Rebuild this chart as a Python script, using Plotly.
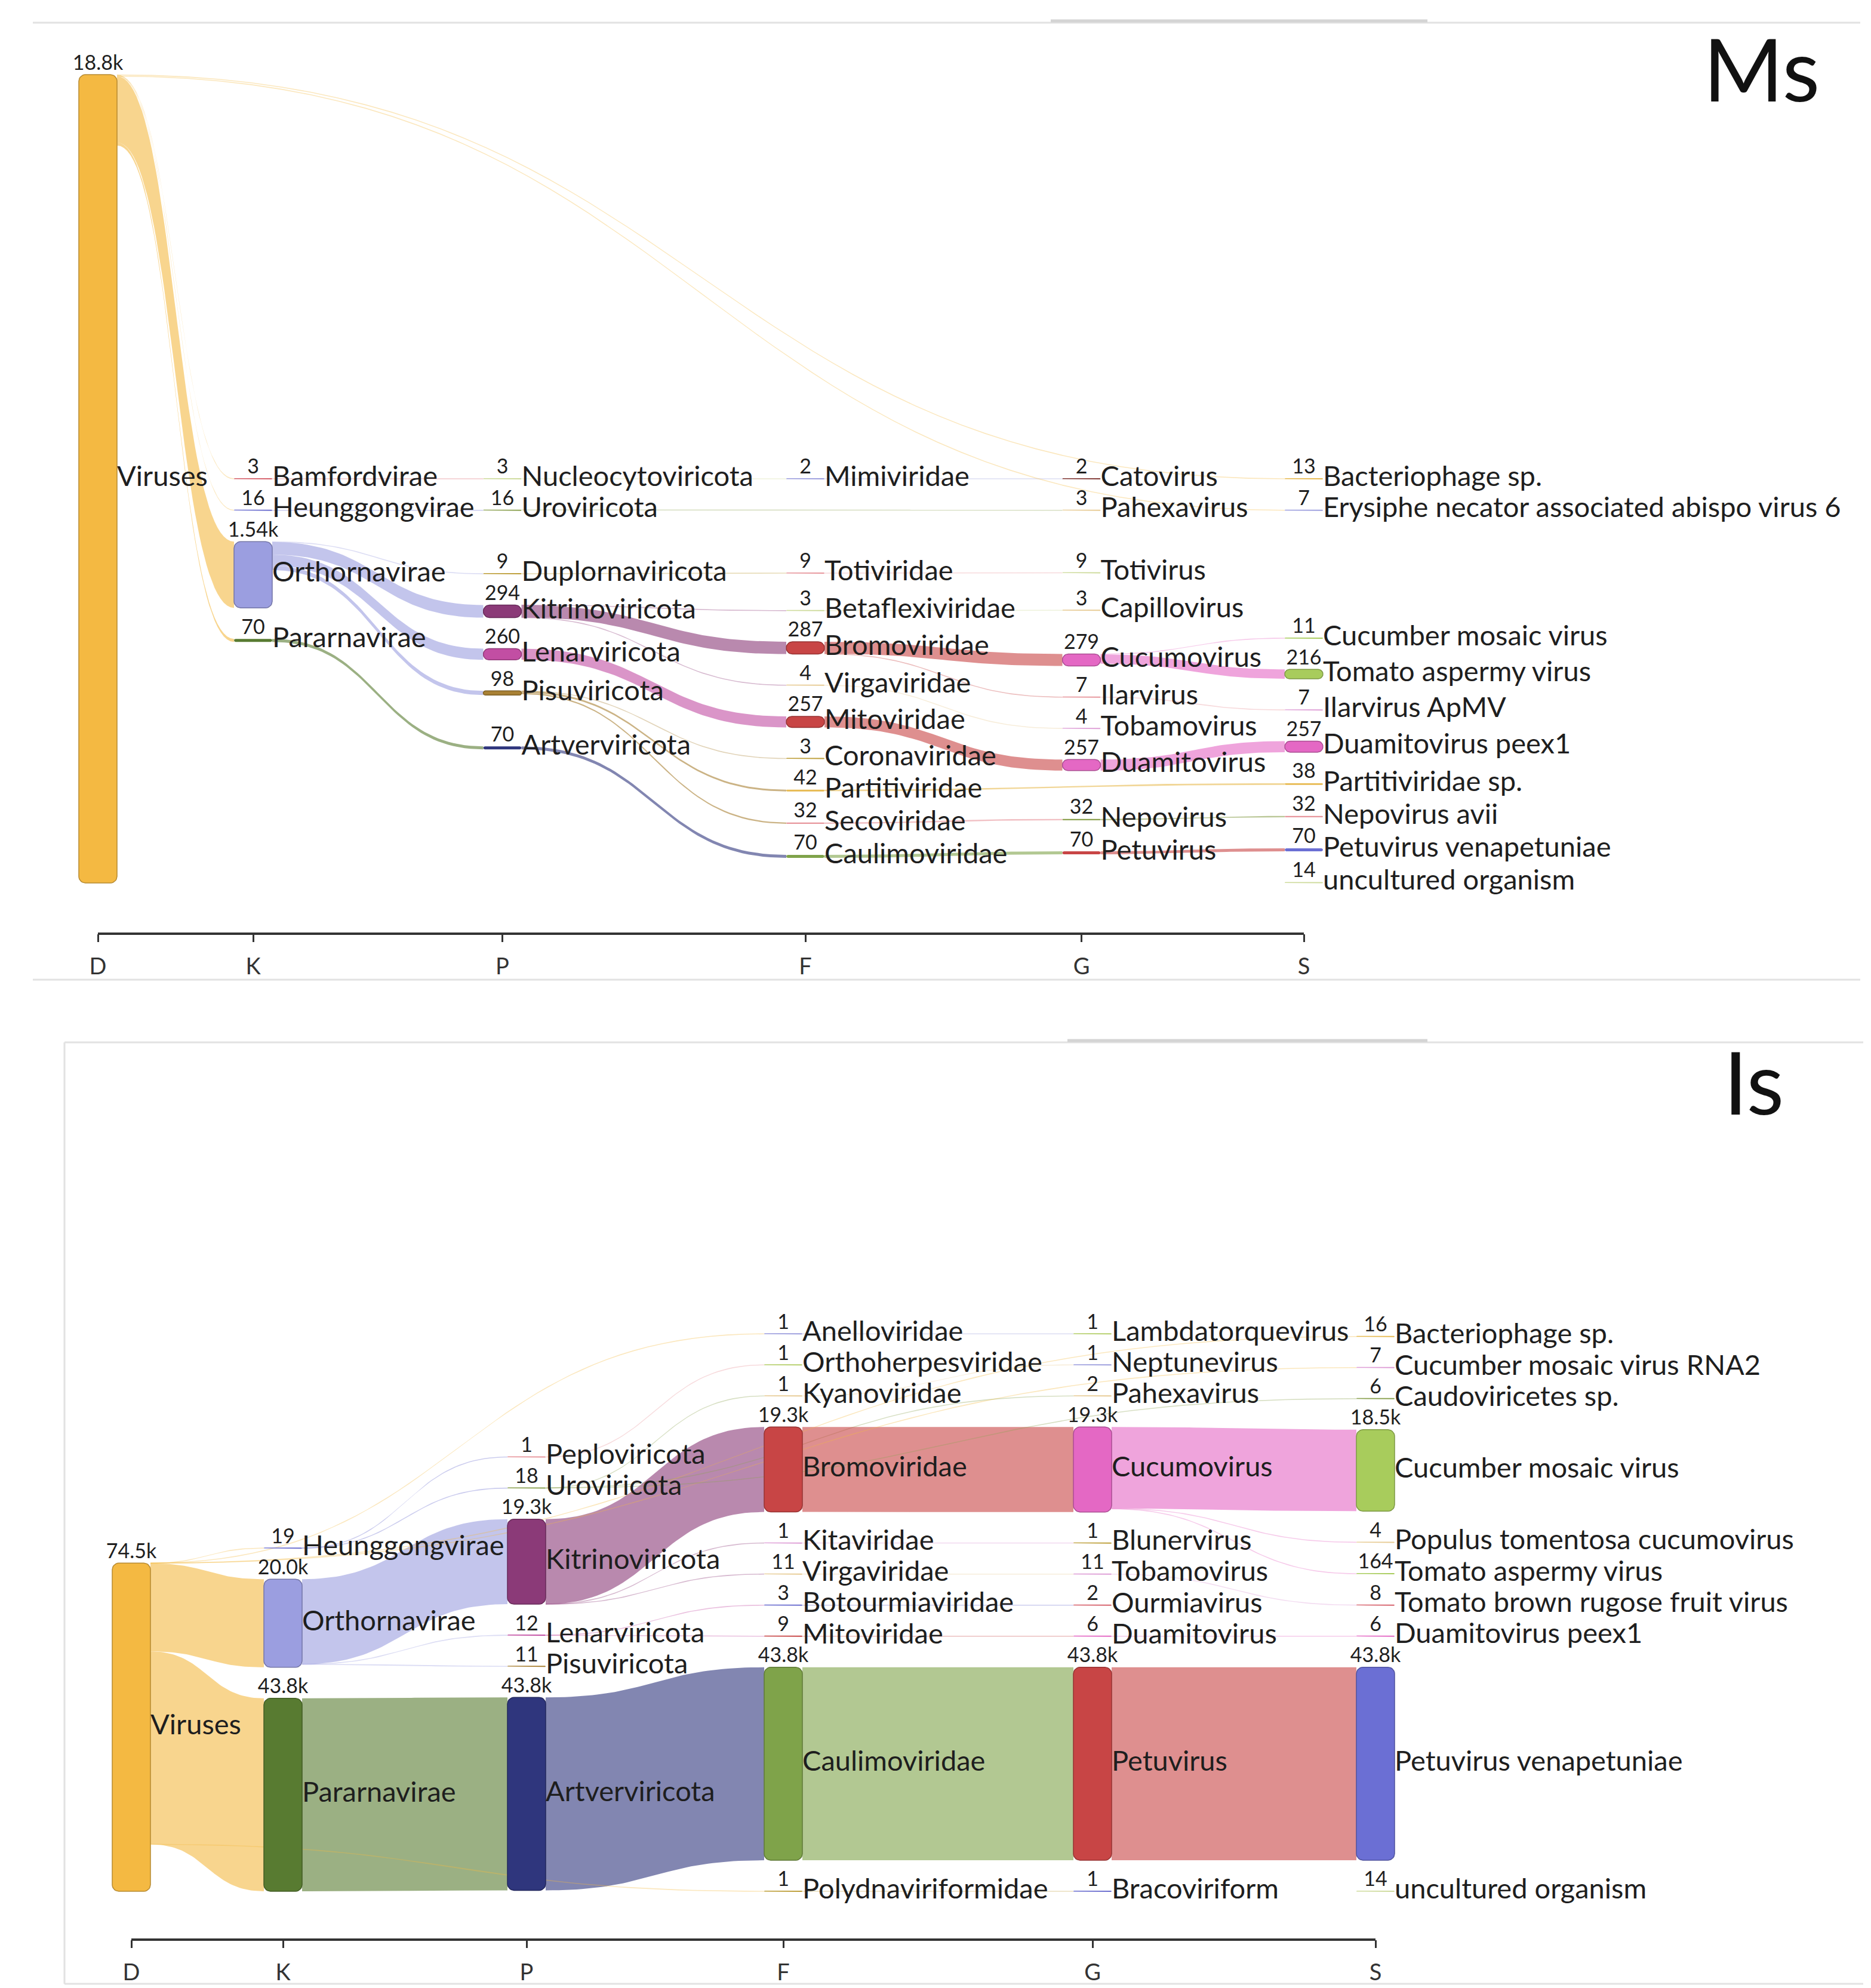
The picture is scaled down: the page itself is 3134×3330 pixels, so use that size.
import math
import plotly.graph_objects as go

# ---------------------------------------------------------------- data
RANKS = ["D", "K", "P", "F", "G", "S"]

# ---- Ms sample
ms_names = [
    "Viruses",
    "Bamfordvirae", "Heunggongvirae", "Orthornavirae", "Pararnavirae",
    "Nucleocytoviricota", "Uroviricota", "Duplornaviricota", "Kitrinoviricota",
    "Lenarviricota", "Pisuviricota", "Artverviricota",
    "Mimiviridae", "Totiviridae", "Betaflexiviridae", "Bromoviridae", "Virgaviridae",
    "Mitoviridae", "Coronaviridae", "Partitiviridae", "Secoviridae", "Caulimoviridae",
    "Catovirus", "Pahexavirus", "Totivirus", "Capillovirus", "Cucumovirus",
    "Ilarvirus", "Tobamovirus", "Duamitovirus", "Nepovirus", "Petuvirus",
    "Bacteriophage sp.", "Erysiphe necator associated abispo virus 6",
    "Cucumber mosaic virus", "Tomato aspermy virus", "Ilarvirus ApMV",
    "Duamitovirus peex1", "Partitiviridae sp.", "Nepovirus avii",
    "Petuvirus venapetuniae", "uncultured organism",
]
ms_ranks = ["D"] + ["K"] * 4 + ["P"] * 7 + ["F"] * 10 + ["G"] * 10 + ["S"] * 10
ms_reads = [
    18800,
    3, 16, 1540, 70,
    3, 16, 9, 294, 260, 98, 70,
    2, 9, 3, 287, 4, 257, 3, 42, 32, 70,
    2, 3, 9, 3, 279, 7, 4, 257, 32, 70,
    13, 7, 11, 216, 7, 257, 38, 32, 70, 14,
]
ms_parents = [
    None,
    "Viruses", "Viruses", "Viruses", "Viruses",
    "Bamfordvirae", "Heunggongvirae", "Orthornavirae", "Orthornavirae",
    "Orthornavirae", "Orthornavirae", "Pararnavirae",
    "Nucleocytoviricota", "Duplornaviricota", "Kitrinoviricota", "Kitrinoviricota",
    "Kitrinoviricota", "Lenarviricota", "Pisuviricota", "Pisuviricota",
    "Pisuviricota", "Artverviricota",
    "Mimiviridae", "Uroviricota", "Totiviridae", "Betaflexiviridae", "Bromoviridae",
    "Bromoviridae", "Virgaviridae", "Mitoviridae", "Secoviridae", "Caulimoviridae",
    "Viruses", "Viruses", "Cucumovirus", "Cucumovirus", "Ilarvirus",
    "Duamitovirus", "Partitiviridae", "Nepovirus", "Petuvirus", None,
]

# ---- Is sample
is_names = [
    "Viruses",
    "Heunggongvirae", "Orthornavirae", "Pararnavirae",
    "Peploviricota", "Uroviricota", "Kitrinoviricota", "Lenarviricota",
    "Pisuviricota", "Artverviricota",
    "Anelloviridae", "Orthoherpesviridae", "Kyanoviridae", "Bromoviridae",
    "Kitaviridae", "Virgaviridae", "Botourmiaviridae", "Mitoviridae",
    "Caulimoviridae", "Polydnaviriformidae",
    "Lambdatorquevirus", "Neptunevirus", "Pahexavirus", "Cucumovirus",
    "Blunervirus", "Tobamovirus", "Ourmiavirus", "Duamitovirus", "Petuvirus",
    "Bracoviriform",
    "Bacteriophage sp.", "Cucumber mosaic virus RNA2", "Caudoviricetes sp.",
    "Cucumber mosaic virus", "Populus tomentosa cucumovirus", "Tomato aspermy virus",
    "Tomato brown rugose fruit virus", "Duamitovirus peex1",
    "Petuvirus venapetuniae", "uncultured organism",
]
is_ranks = ["D"] + ["K"] * 3 + ["P"] * 6 + ["F"] * 10 + ["G"] * 10 + ["S"] * 10
is_reads = [
    74500,
    19, 20000, 43800,
    1, 18, 19300, 12, 11, 43800,
    1, 1, 1, 19300, 1, 11, 3, 9, 43800, 1,
    1, 1, 2, 19300, 1, 11, 2, 6, 43800, 1,
    16, 7, 6, 18500, 4, 164, 8, 6, 43800, 14,
]
is_parents = [
    None,
    "Viruses", "Viruses", "Viruses",
    "Heunggongvirae", "Heunggongvirae", "Orthornavirae", "Orthornavirae",
    "Orthornavirae", "Pararnavirae",
    "Viruses", "Peploviricota", "Uroviricota", "Kitrinoviricota",
    "Kitrinoviricota", "Kitrinoviricota", "Lenarviricota", "Lenarviricota",
    "Artverviricota", "Viruses",
    "Anelloviridae", "Kyanoviridae", "Uroviricota", "Bromoviridae",
    "Kitaviridae", "Virgaviridae", "Botourmiaviridae", "Mitoviridae",
    "Caulimoviridae", "Polydnaviriformidae",
    "Viruses", "Viruses", "Uroviricota", "Cucumovirus", "Cucumovirus",
    "Cucumovirus", "Tobamovirus", "Duamitovirus", "Petuvirus", None,
]

# ---------------------------------------------------------------- styles
NODE_COLORS = {
    "Viruses": "#f4b942", "Bamfordvirae": "#d6616b", "Heunggongvirae": "#6b6ecf",
    "Orthornavirae": "#9b9ee0", "Pararnavirae": "#587b31",
    "Nucleocytoviricota": "#cedb9c", "Uroviricota": "#8ca252", "Peploviricota": "#e7969c",
    "Duplornaviricota": "#bd9e39", "Kitrinoviricota": "#8b3a78", "Lenarviricota": "#c24ea3",
    "Pisuviricota": "#a98134", "Artverviricota": "#2f367d",
    "Mimiviridae": "#9c9ede", "Totiviridae": "#e7969c", "Betaflexiviridae": "#cedb9c",
    "Bromoviridae": "#c84545", "Virgaviridae": "#e7cb94", "Mitoviridae": "#c84545",
    "Coronaviridae": "#bd9e39", "Partitiviridae": "#e7ba52", "Secoviridae": "#e7969c",
    "Caulimoviridae": "#7fa34a", "Anelloviridae": "#9c9ede", "Orthoherpesviridae": "#b5cf6b",
    "Kyanoviridae": "#e7cb94", "Kitaviridae": "#de9ed6", "Botourmiaviridae": "#6b6ecf",
    "Polydnaviriformidae": "#bd9e39",
    "Catovirus": "#843c39", "Pahexavirus": "#e7cb94", "Totivirus": "#cedb9c",
    "Capillovirus": "#e7cb94", "Cucumovirus": "#e468c4", "Ilarvirus": "#e7969c",
    "Tobamovirus": "#de9ed6", "Duamitovirus": "#e468c4", "Nepovirus": "#8ca252",
    "Petuvirus": "#c84545", "Lambdatorquevirus": "#b5cf6b", "Neptunevirus": "#9c9ede",
    "Blunervirus": "#bd9e39", "Ourmiavirus": "#d6616b", "Bracoviriform": "#6b6ecf",
    "Bacteriophage sp.": "#e7ba52", "Erysiphe necator associated abispo virus 6": "#9c9ede",
    "Cucumber mosaic virus": "#a8cc5c", "Tomato aspermy virus": "#a8cc5c",
    "Ilarvirus ApMV": "#de9ed6", "Duamitovirus peex1": "#e468c4",
    "Partitiviridae sp.": "#e7ba52", "Nepovirus avii": "#e7969c",
    "Petuvirus venapetuniae": "#6b6fd4", "uncultured organism": "#cedb9c",
    "Cucumber mosaic virus RNA2": "#de9ed6", "Caudoviricetes sp.": "#8ca252",
    "Populus tomentosa cucumovirus": "#e7cb94", "Tomato brown rugose fruit virus": "#d6616b",
}
FONT = "Lato, 'Open Sans', Arial, sans-serif"
TEXT_COLOR = "#1e1e1e"
LABEL_SIZE = 47
COUNT_SIZE = 34
TICK_SIZE = 38
NODE_W = 64
NODE_R = 11
LINK_ALPHA = 0.6
THIN_LINK_ALPHA = 0.35
MIN_LINK_W = 1.6
FIG_W, FIG_H = 3134, 3330

PANELS = [
    dict(title="Ms", names=ms_names, ranks=ms_ranks, reads=ms_reads, parents=ms_parents,
         xaxis="x", yaxis="y", left_px=156, top_px=117, axis_px=1556, dom_top_px=0,
         height=1354, pad=52, fill=None, char_px=22.5, gap_px=102.5,
         title_xy=(2942, 106)),
    dict(title="Is", names=is_names, ranks=is_ranks, reads=is_reads, parents=is_parents,
         xaxis="x2", yaxis="y2", left_px=212, top_px=1806, axis_px=3241, dom_top_px=1740,
         height=1354, pad=52, fill=0.406, char_px=22.0, gap_px=100.0,
         title_xy=(2929, 1803)),
]


def fmt_count(v):
    if v < 1000:
        return str(int(v))
    x = v / 1000.0
    dec = max(0, 3 - len(str(int(x))))
    return f"{x:.{dec}f}k"


def rgba(hexcol, a):
    h = hexcol.lstrip("#")
    r, g, b = int(h[0:2], 16), int(h[2:4], 16), int(h[4:6], 16)
    return f"rgba({r},{g},{b},{a})"


def darker(hexcol, f=0.75):
    h = hexcol.lstrip("#")
    r, g, b = (int(h[k:k + 2], 16) for k in (0, 2, 4))
    return f"rgb({int(r * f)},{int(g * f)},{int(b * f)})"


def sankey_layout(names, node_ranks, reads, parents, H, pad, fill, iterations=1000):
    """d3-sankey (v0.4 style) layout with path ordering, as used by Pavian."""
    n = len(names)
    index = {nm: i for i, nm in enumerate(names)}
    column = [RANKS.index(r) for r in node_ranks]

    def lineage(i):
        parts = []
        while i is not None:
            parts.append(names[i])
            p = parents[i]
            i = index[p] if p is not None else None
        return ">".join(reversed(parts))

    paths = [lineage(i) for i in range(n)]
    cols = [sorted([i for i in range(n) if column[i] == c], key=lambda i: paths[i])
            for c in range(len(RANKS))]
    links = [(index[parents[i]], i, reads[i]) for i in range(n) if parents[i] is not None]
    out_l = [[] for _ in range(n)]
    in_l = [[] for _ in range(n)]
    for li, (s, t, v) in enumerate(links):
        out_l[s].append(li)
        in_l[t].append(li)

    if fill is None:
        ky = min((H - (len(c) - 1) * pad) / sum(reads[i] for i in c) for c in cols if c)
    else:
        ky = fill * H / max(sum(reads[i] for i in c) for c in cols if c)
    dy = [reads[i] * ky for i in range(n)]
    y = [0.0] * n
    for c in cols:
        for k, i in enumerate(c):
            y[i] = float(k)

    def center(i):
        return y[i] + dy[i] / 2

    def resolve():
        for c in cols:
            if not c:
                continue
            y0 = 0.0
            for i in c:
                d = y0 - y[i]
                if d > 0:
                    y[i] += d
                y0 = y[i] + dy[i] + pad
            d = y0 - pad - H
            if d > 0:
                last = c[-1]
                y[last] -= d
                y0 = y[last]
                for i in reversed(c[:-1]):
                    d = y[i] + dy[i] + pad - y0
                    if d > 0:
                        y[i] -= d
                    y0 = y[i]

    resolve()
    alpha = 1.0
    for _ in range(iterations):
        alpha *= 0.99
        for c in reversed(cols):
            for i in c:
                if out_l[i]:
                    tot = sum(links[l][2] for l in out_l[i])
                    yy = sum(center(links[l][1]) * links[l][2] for l in out_l[i]) / tot
                    y[i] += (yy - center(i)) * alpha
        resolve()
        for c in cols:
            for i in c:
                if in_l[i]:
                    tot = sum(links[l][2] for l in in_l[i])
                    yy = sum(center(links[l][0]) * links[l][2] for l in in_l[i]) / tot
                    y[i] += (yy - center(i)) * alpha
        resolve()

    # link depths
    sy = [0.0] * len(links)
    ty = [0.0] * len(links)
    for i in range(n):
        acc = 0.0
        for l in sorted(out_l[i], key=lambda l: y[links[l][1]]):
            sy[l] = acc
            acc += links[l][2] * ky
        acc = 0.0
        for l in sorted(in_l[i], key=lambda l: y[links[l][0]]):
            ty[l] = acc
            acc += links[l][2] * ky
    return column, cols, y, dy, links, sy, ty, ky


def column_x(names, column, char_px, gap_px):
    maxlen = [0] * len(RANKS)
    for nm, c in zip(names, column):
        maxlen[c] = max(maxlen[c], len(nm))
    xs = [0.0]
    for c in range(len(RANKS) - 1):
        xs.append(xs[-1] + maxlen[c] * char_px + gap_px)
    return xs


def bezier(x0, y0, x1, y1, m=48):
    xm = (x0 + x1) / 2
    pts = []
    for k in range(m + 1):
        t = k / m
        a, b, c, d = (1 - t) ** 3, 3 * (1 - t) ** 2 * t, 3 * (1 - t) * t ** 2, t ** 3
        pts.append((a * x0 + b * xm + c * xm + d * x1, a * y0 + b * y0 + c * y1 + d * y1))
    return pts


def rounded_rect(x0, x1, y0, y1, r):
    r = max(0.0, min(r, (x1 - x0) / 2, (y1 - y0) / 2))
    pts = []
    for cx, cy, a0, a1 in [(x1 - r, y0 + r, -90, 0), (x1 - r, y1 - r, 0, 90),
                           (x0 + r, y1 - r, 90, 180), (x0 + r, y0 + r, 180, 270)]:
        for k in range(8):
            a = math.radians(a0 + (a1 - a0) * k / 7)
            pts.append((cx + r * math.cos(a), cy + r * math.sin(a)))
    pts.append(pts[0])
    return pts


fig = go.Figure()
shapes = []
annotations = []

for P in PANELS:
    names = P["names"]
    column, cols, y, dy, links, sy, ty, ky = sankey_layout(
        names, P["ranks"], P["reads"], P["parents"], P["height"], P["pad"], P["fill"])
    xs = column_x(names, column, P["char_px"], P["gap_px"])
    xa, ya = P["xaxis"], P["yaxis"]

    # links
    for l, (s, t, v) in enumerate(links):
        natural = v * ky
        w = max(natural, MIN_LINK_W)
        alpha = LINK_ALPHA if natural >= MIN_LINK_W else THIN_LINK_ALPHA
        x0 = xs[column[s]] + NODE_W / 2
        x1 = xs[column[t]] - NODE_W / 2
        yc0 = y[s] + sy[l] + natural / 2
        yc1 = y[t] + ty[l] + natural / 2
        top = bezier(x0, yc0 - w / 2, x1, yc1 - w / 2)
        bot = bezier(x0, yc0 + w / 2, x1, yc1 + w / 2)
        poly = top + bot[::-1] + [top[0]]
        col = NODE_COLORS.get(names[s], "#999999")
        fig.add_trace(go.Scatter(
            x=[p[0] for p in poly], y=[p[1] for p in poly], xaxis=xa, yaxis=ya,
            mode="lines", fill="toself", fillcolor=rgba(col, alpha),
            line=dict(width=0, color=rgba(col, alpha)), hoverinfo="skip",
            showlegend=False))

    # nodes
    for i, nm in enumerate(names):
        col = NODE_COLORS.get(nm, "#999999")
        h = max(dy[i], 2.0)
        yc = y[i] + dy[i] / 2
        xc = xs[column[i]]
        pts = rounded_rect(xc - NODE_W / 2, xc + NODE_W / 2, yc - h / 2, yc + h / 2, NODE_R)
        fig.add_trace(go.Scatter(
            x=[p[0] for p in pts], y=[p[1] for p in pts], xaxis=xa, yaxis=ya,
            mode="lines", fill="toself", fillcolor=col,
            line=dict(width=1.5 if h > 6 else 0, color=darker(col)),
            hoverinfo="skip", showlegend=False))

    # name labels
    fig.add_trace(go.Scatter(
        x=[xs[column[i]] + NODE_W / 2 for i in range(len(names))],
        y=[y[i] + dy[i] / 2 for i in range(len(names))],
        text=names, mode="text", textposition="middle right", xaxis=xa, yaxis=ya,
        textfont=dict(family=FONT, size=LABEL_SIZE, color=TEXT_COLOR),
        cliponaxis=False, hoverinfo="skip", showlegend=False))
    # count labels
    fig.add_trace(go.Scatter(
        x=[xs[column[i]] for i in range(len(names))],
        y=[y[i] for i in range(len(names))],
        text=[fmt_count(v) for v in P["reads"]], mode="text", textposition="top center",
        xaxis=xa, yaxis=ya,
        textfont=dict(family=FONT, size=COUNT_SIZE, color=TEXT_COLOR),
        cliponaxis=False, hoverinfo="skip", showlegend=False))

    # axes
    ax_key = "xaxis" if xa == "x" else "xaxis2"
    ay_key = "yaxis" if ya == "y" else "yaxis2"
    fig.layout[ax_key] = dict(
        domain=[0, 1], range=[-P["left_px"], FIG_W - P["left_px"]],
        tickvals=xs, ticktext=RANKS, ticks="outside", ticklen=13, tickwidth=3,
        tickcolor="#333333", showgrid=False, zeroline=False, showline=False,
        tickfont=dict(family=FONT, size=TICK_SIZE, color="#333333"), ticklabelstandoff=8,
        anchor=ya, fixedrange=True)
    dom_bottom = 1 - P["axis_px"] / FIG_H
    dom_top = 1 - P["dom_top_px"] / FIG_H
    fig.layout[ay_key] = dict(
        domain=[dom_bottom, dom_top],
        range=[P["axis_px"] - P["top_px"], P["dom_top_px"] - P["top_px"]],
        visible=False, anchor=xa, fixedrange=True)
    shapes.append(dict(type="line", xref=xa, yref=f"{ya} domain", x0=xs[0], x1=xs[-1],
                       y0=0, y1=0, line=dict(color="#333333", width=4)))
    annotations.append(dict(text=P["title"], xref="paper", yref="paper",
                            x=P["title_xy"][0] / FIG_W, y=1 - P["title_xy"][1] / FIG_H,
                            showarrow=False, xanchor="center", yanchor="middle",
                            font=dict(family=FONT, size=145, color="#111111")))


def pline(x0, y0, x1, y1, color="#e2e2e2", width=3):
    return dict(type="line", xref="paper", yref="paper", x0=x0 / FIG_W, x1=x1 / FIG_W,
                y0=1 - y0 / FIG_H, y1=1 - y1 / FIG_H, line=dict(color=color, width=width))


# panel frames (screenshot borders)
shapes += [
    pline(47, 30, 3108, 30), pline(1752, 27, 2383, 27, "#d4d4d4", 5),
    pline(47, 1633, 3108, 1633),
    pline(100, 1738, 3113, 1738), pline(1780, 1735, 2383, 1735, "#d4d4d4", 5),
    pline(100, 1738, 100, 3315), pline(100, 3315, 3113, 3315),
]

fig.update_layout(
    width=FIG_W, height=FIG_H, margin=dict(l=0, r=0, t=0, b=0),
    paper_bgcolor="white", plot_bgcolor="white", showlegend=False,
    shapes=shapes, annotations=annotations, font=dict(family=FONT),
)
fig.write_html("out.html")
